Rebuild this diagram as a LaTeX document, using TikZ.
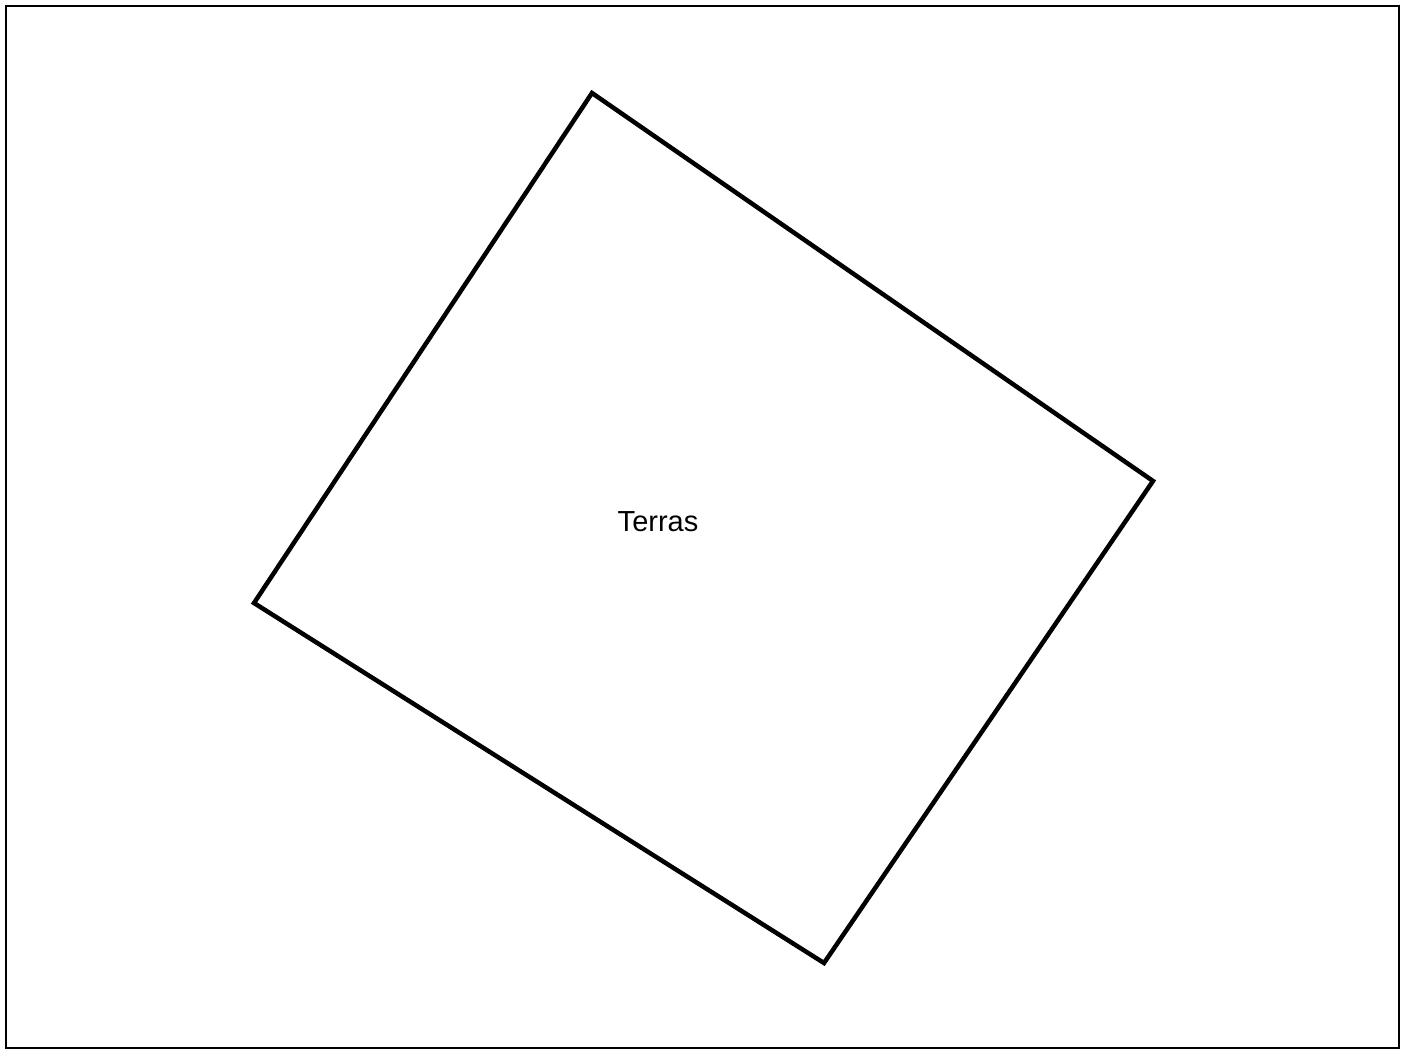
\documentclass[tikz,border=0pt]{standalone}
\usepackage{fontspec}
\setmainfont{Liberation Sans}
\usetikzlibrary{positioning}

\begin{document}
\begin{tikzpicture}[
    x=1pt, y=-1pt,
    frame/.style={draw, line width=2.5pt},
    plot/.style={draw, line width=4.5pt, line join=miter},
    label/.style={font=\fontsize{29}{34}\selectfont}
  ]
  \useasboundingbox (0,0) rectangle (1408,1050);
  \draw[frame] (6,6) rectangle (1399,1048);

  \coordinate (top) at (592,93);
  \coordinate (right) at (1153,481);
  \coordinate (bottom) at (824,963);
  \coordinate (left) at (254,603);
  \draw[plot] (top) -- (right) -- (bottom) -- (left) -- cycle;

  \node[label] (terras) at (658,522) {Terras};
\end{tikzpicture}
\end{document}
